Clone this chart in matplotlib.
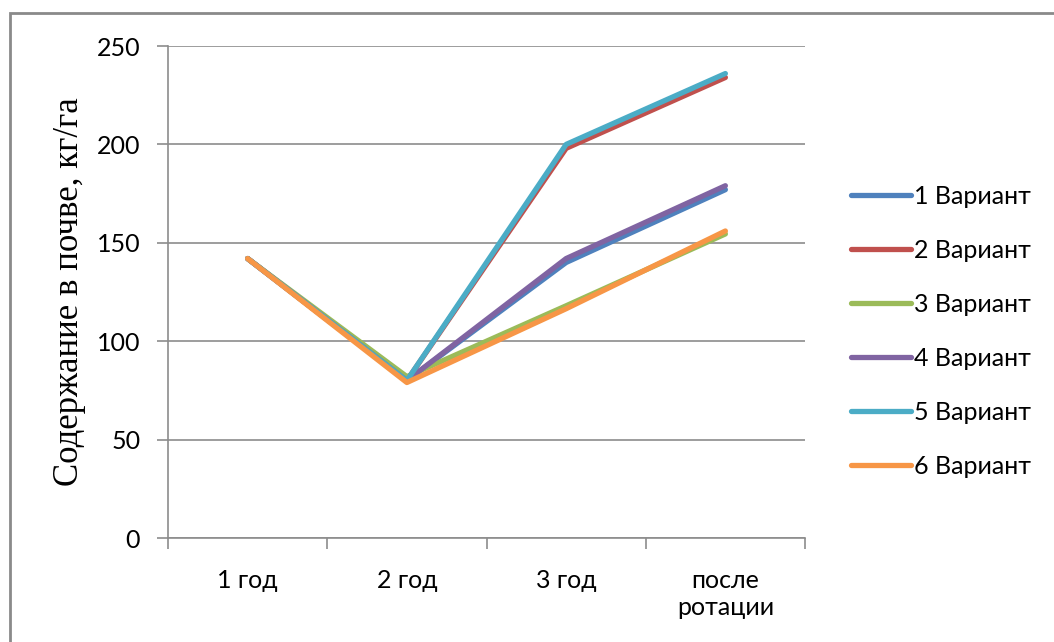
import matplotlib.pyplot as plt
from matplotlib.patches import Rectangle

# values, kg/ha
periods = ['1 год', '2 год', '3 год', 'после\nротации']
variant_1 = [142, 80, 140, 177]
variant_2 = [142, 80, 198, 234]
variant_3 = [142, 82, 118, 154.5]
variant_4 = [142, 80, 142, 179]
variant_5 = [142, 80, 200, 236]
variant_6 = [142, 79, 116.5, 156]
labels = ['1 Вариант', '2 Вариант', '3 Вариант', '4 Вариант', '5 Вариант', '6 Вариант']

colors = ['#4F81BD', '#C0504D', '#9BBB59', '#8064A2', '#4BACC6', '#F79646']
series = [variant_1, variant_2, variant_3, variant_4, variant_5, variant_6]

plt.rcParams['font.family'] = ['Lato', 'DejaVu Sans']

fig = plt.figure(figsize=(10.54, 6.42), dpi=100)
ax = fig.add_axes([168 / 1054, 1 - 538 / 642, (805 - 168) / 1054, (538 - 46) / 642])

x = list(range(len(periods)))
for vals, col, lab in zip(series, colors, labels):
    ax.plot(x, vals, color=col, linewidth=3.8, label=lab,
            solid_capstyle='round', solid_joinstyle='round')

grid_col = '#8C8C8C'
ax.set_xlim(-0.5, len(periods) - 0.5)
ax.set_ylim(0, 250)
ax.set_yticks(range(0, 251, 50))
ax.yaxis.grid(True, color=grid_col, linewidth=1.2)
ax.set_axisbelow(True)

ax.set_xticks(x)
ax.set_xticklabels(periods, fontsize=18, linespacing=1.25)
ax.set_xticks([i - 0.5 for i in range(len(periods) + 1)], minor=True)
ax.tick_params(axis='x', which='major', length=0, pad=22)
ax.tick_params(axis='x', which='minor', length=8, color=grid_col, width=1.2)
ax.tick_params(axis='y', length=8, color=grid_col, width=1.2, labelsize=18, pad=12)

for side in ['top', 'right']:
    ax.spines[side].set_visible(False)
for side in ['left', 'bottom']:
    ax.spines[side].set_color(grid_col)
    ax.spines[side].set_linewidth(1.2)

ax.set_ylabel('Содержание в почве, кг/га', fontsize=25,
              family=['Liberation Serif', 'DejaVu Serif'])
ax.yaxis.set_label_coords(-0.128, 0.5)

ax.legend(loc='center left', bbox_to_anchor=(828 / 1054, 1 - 331 / 642),
          bbox_transform=fig.transFigure, frameon=False, fontsize=18,
          handlelength=2.4, handletextpad=0.15, labelspacing=1.24)

# outer chart frame
fig.patches.append(Rectangle((10 / 1054, -0.1), 1.2, 1 - 13 / 642 + 0.1,
                             transform=fig.transFigure, fill=False,
                             edgecolor='#8A8A8A', linewidth=2))

fig.savefig('out.png', dpi=100)
